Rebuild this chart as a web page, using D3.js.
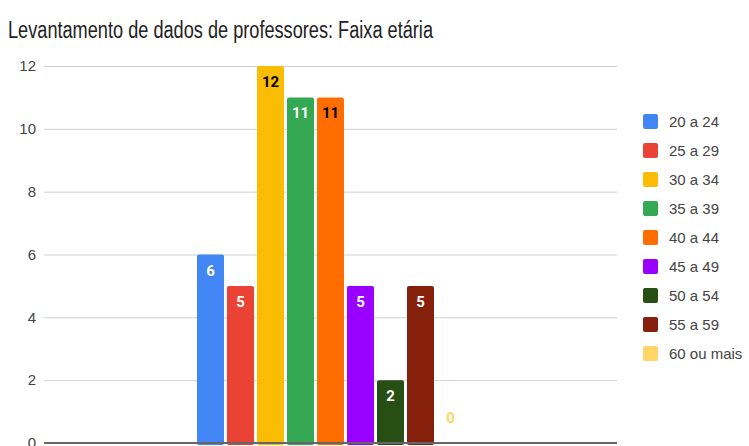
<!DOCTYPE html>
<html>
<head>
<meta charset="utf-8">
<script src="https://cdn.jsdelivr.net/npm/d3@7"></script>
<style>
	body { margin: 0; background: #fff; }
	svg { display: block; font-family: Roboto, Arial, sans-serif; }
</style>
</head>
<body>
<div id="chart"></div>
<script>
const chartTitle = 'Levantamento de dados de professores: Faixa etária';
const seriesNames = ['20 a 24', '25 a 29', '30 a 34', '35 a 39', '40 a 44', '45 a 49', '50 a 54', '55 a 59', '60 ou mais'];
const seriesValues = [6, 5, 12, 11, 11, 5, 2, 5, 0];
const seriesColors = ['#4285f4', '#ea4335', '#fbbc04', '#34a853', '#ff6d01', '#9900ff', '#274e13', '#85200c', '#ffd666'];
const labelColors = ['#fff', '#fff', '#000', '#fff', '#000', '#fff', '#fff', '#fff', '#ffd666'];
const yTicks = [0, 2, 4, 6, 8, 10, 12];

const width = 749, height = 446;
const margin = {top: 66, right: 132, bottom: 3, left: 44};
const plotW = width - margin.left - margin.right;
const plotH = height - margin.top - margin.bottom;

var svg = d3.select('#chart')
	.append('svg')
		.attr('width', width)
		.attr('height', height);

svg.append('text')
	.attr('x', 8)
	.attr('y', 38)
	.attr('font-family', '"Liberation Sans", Arial, sans-serif')
	.attr('font-size', 23)
	.attr('fill', '#222')
	.attr('textLength', 425)
	.attr('lengthAdjust', 'spacingAndGlyphs')
	.text(chartTitle);

var g = svg.append('g')
	.attr('transform', 'translate(' + margin.left + ',' + margin.top + ')');

var y = d3.scaleLinear()
	.domain([0, 12])
	.range([plotH, 0]);

// one category, bars grouped inside it
var x0 = d3.scaleBand()
	.domain(['Faixa etária'])
	.range([0, plotW])
	.paddingInner(0)
	.paddingOuter(0.573);

var x1 = d3.scaleBand()
	.domain(seriesNames)
	.range([0, x0.bandwidth()])
	.paddingInner(0.1)
	.paddingOuter(0);

// gridlines + tick labels
var yAxis = g.append('g')
	.call(d3.axisLeft(y).tickValues(yTicks).tickSize(-plotW).tickPadding(8));
yAxis.select('.domain').remove();
yAxis.selectAll('.tick line')
	.attr('stroke', '#d0d0d0');
yAxis.selectAll('.tick text')
	.attr('fill', '#444')
	.attr('font-size', 15)
	.attr('font-family', '"Liberation Sans", Arial, sans-serif');

var group = g.append('g')
	.attr('transform', 'translate(' + x0('Faixa etária') + ',0)');

var data = seriesNames.map((n, i) => ({name: n, value: seriesValues[i], color: seriesColors[i], label: labelColors[i]}));

group.selectAll('rect')
	.data(data.filter(d => d.value > 0))
	.enter()
	.append('rect')
		.attr('x', d => x1(d.name))
		.attr('y', d => y(d.value))
		.attr('width', x1.bandwidth())
		.attr('height', d => plotH - y(d.value) + 2)
		.attr('rx', 2)
		.attr('fill', d => d.color);

group.selectAll('text.val')
	.data(data)
	.enter()
	.append('text')
		.attr('class', 'val')
		.attr('x', d => x1(d.name) + x1.bandwidth() / 2)
		.attr('y', d => d.value > 0 ? y(d.value) + 21 : y(0) - 20)
		.attr('text-anchor', 'middle')
		.attr('font-size', 15)
		.attr('font-weight', 'bold')
		.attr('fill', d => d.label)
		.text(d => d.value);

// baseline
g.append('line')
	.attr('x1', 0)
	.attr('x2', plotW)
	.attr('y1', y(0))
	.attr('y2', y(0))
	.attr('stroke', '#666')
	.attr('stroke-width', 2);

// legend
var legend = svg.append('g')
	.attr('transform', 'translate(643,114)');
var rows = legend.selectAll('g')
	.data(data)
	.enter()
	.append('g')
		.attr('transform', (d, i) => 'translate(0,' + i * 29 + ')');
rows.append('rect')
	.attr('width', 15)
	.attr('height', 15)
	.attr('rx', 2)
	.attr('fill', d => d.color);
rows.append('text')
	.attr('x', 26)
	.attr('y', 13)
	.attr('font-size', 15)
	.attr('font-family', '"Liberation Sans", Arial, sans-serif')
	.attr('fill', '#444')
	.text(d => d.name);
</script>
</body>
</html>
